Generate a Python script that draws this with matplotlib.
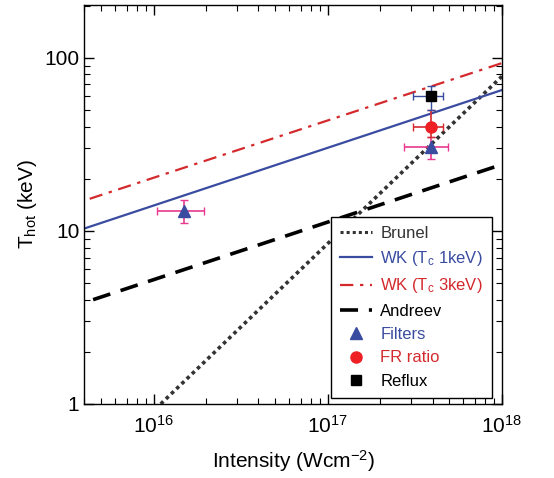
import numpy as np
import matplotlib
matplotlib.use("Agg")
import matplotlib.pyplot as plt
from matplotlib.lines import Line2D

plt.rcParams['font.family'] = ['Liberation Sans', 'DejaVu Sans']
plt.rcParams['mathtext.fontset'] = 'custom'
plt.rcParams['mathtext.rm'] = 'Liberation Sans'
plt.rcParams['mathtext.it'] = 'Liberation Sans'

# model lines (end points)
brunel_x = [1.1e16, 1.0e18]
brunel_y = [1.0, 78.0]
wk1_x = [4.0e15, 1.0e18]
wk1_y = [10.3, 65.0]
wk3_x = [4.3e15, 1.0e18]
wk3_y = [15.3, 93.0]
andreev_x = [4.5e15, 9.1e17]
andreev_y = [4.0, 23.4]

# measurements
filt_x = [1.5e16, 3.9e17]
filt_y = [13.0, 30.6]
filt_xerr = [[0.45e16, 1.15e17], [0.45e16, 1.0e17]]
filt_yerr = [[1.9, 4.6], [2.1, 4.4]]
fr_x = [3.9e17]
fr_y = [40.0]
fr_xerr = [[0.8e17], [0.7e17]]
fr_yerr = [[5.0], [10.0]]
reflux_x = [3.9e17]
reflux_y = [60.0]
reflux_xerr = [[0.8e17], [0.7e17]]
reflux_yerr = [[10.0], [9.0]]

blue = '#3a4ca0'
red = '#d42a2e'
pink = '#e8388f'
dark = '#333333'

fig = plt.figure(figsize=(5.54, 4.78), dpi=100)
ax = fig.add_axes([0.152, 0.155, 0.754, 0.835])

ax.plot(brunel_x, brunel_y, color=dark, lw=2.6, linestyle=(0, (1, 1)))
ax.plot(wk1_x, wk1_y, color=blue, lw=1.6)
ax.plot(wk3_x, wk3_y, color=red, lw=1.6, linestyle=(0, (6, 3, 1.5, 3)))
ax.plot(andreev_x, andreev_y, color='black', lw=2.6, linestyle=(0, (5, 3)))

ax.errorbar(filt_x, filt_y, xerr=filt_xerr, yerr=filt_yerr, fmt='none',
            ecolor=pink, elinewidth=1.2, capsize=3, zorder=3)
ax.errorbar(fr_x, fr_y, xerr=fr_xerr, yerr=fr_yerr, fmt='none',
            ecolor=red, elinewidth=1.2, capsize=3, zorder=3)
ax.errorbar(reflux_x, reflux_y, xerr=reflux_xerr, yerr=reflux_yerr, fmt='none',
            ecolor=blue, elinewidth=1.0, capsize=3, zorder=3)
ax.plot(filt_x, filt_y, '^', color=blue, ms=9, zorder=4)
ax.plot(fr_x, fr_y, 'o', color='#ee2024', ms=8, zorder=4)
ax.plot(reflux_x, reflux_y, 's', color='black', ms=7, zorder=4)

ax.set_xscale('log')
ax.set_yscale('log')
ax.set_xlim(4.0e15, 1.0e18)
ax.set_ylim(1, 202)
ax.set_yticks([1, 10, 100])
ax.set_yticklabels(['1', '10', '100'])
ax.tick_params(which='both', direction='in', top=True, right=True, labelsize=15)
ax.tick_params(which='major', length=7, width=1)
ax.tick_params(which='minor', length=4, width=0.8)
ax.tick_params(axis='x', pad=8)
for s in ax.spines.values():
    s.set_linewidth(1.0)

ax.set_xlabel('Intensity (Wcm$^{-2}$)', fontsize=15, labelpad=8)
ax.set_ylabel('T$_{\\rm hot}$ (keV)', fontsize=15, labelpad=4)

handles = [
    Line2D([], [], color=dark, lw=2.2, linestyle=(0, (1, 1))),
    Line2D([], [], color=blue, lw=1.6),
    Line2D([], [], color=red, lw=1.6, linestyle=(0, (6, 3, 1.5, 3))),
    Line2D([], [], color='black', lw=2.6, linestyle=(0, (5, 3))),
    Line2D([], [], color=blue, marker='^', ls='none', ms=9),
    Line2D([], [], color='#ee2024', marker='o', ls='none', ms=8),
    Line2D([], [], color='black', marker='s', ls='none', ms=7),
]
labels = ['Brunel', 'WK (T$_{\\rm c}$ 1keV)', 'WK (T$_{\\rm c}$ 3keV)', 'Andreev',
          'Filters', 'FR ratio', 'Reflux']
leg = ax.legend(handles, labels, loc='lower right', bbox_to_anchor=(0.976, 0.015),
                borderaxespad=0, fontsize=12, frameon=True, fancybox=False,
                edgecolor='black', framealpha=1, handlelength=1.9,
                handletextpad=0.5, labelspacing=0.5, borderpad=0.55)
leg.get_frame().set_linewidth(1.0)
text_colors = [dark, blue, red, 'black', blue, red, 'black']
for t, c in zip(leg.get_texts(), text_colors):
    t.set_color(c)

fig.savefig('out.png', dpi=100)
